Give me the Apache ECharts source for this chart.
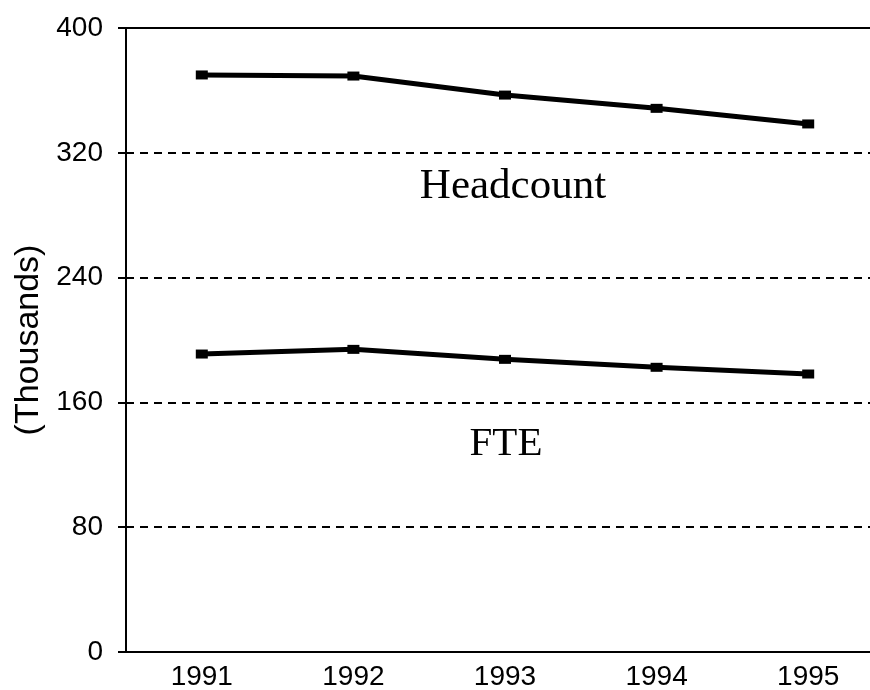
<!DOCTYPE html>
<html>
<head>
<meta charset="utf-8">
<script src="https://cdn.jsdelivr.net/npm/echarts@6/dist/echarts.min.js"></script>
<style>html,body{margin:0;padding:0;background:#fff}#c{width:870px;height:690px}</style>
</head>
<body>
<div id="c"></div>
<script>
const years = ['1991', '1992', '1993', '1994', '1995'];
const headcount = [369.9, 369.2, 357, 348.5, 338.5];
const fte = [191, 194, 187.6, 182.5, 178.2];
const yTicks = [0, 80, 160, 240, 320, 400];
const seriesLabels = ['Headcount', 'FTE'];
const labelAnchors = [['1993', 298.5], ['1993', 133]];

const chart = echarts.init(document.getElementById('c'), null, {renderer: 'canvas'});
const lineStyle = {color: '#000', width: 5};
function mp(idx, dx, fs) {
  return {
    symbol: 'circle', symbolSize: 1,
    itemStyle: {color: 'rgba(0,0,0,0)'},
    label: {show: true, position: 'inside', offset: [dx, 0], formatter: seriesLabels[idx],
      color: '#000', fontFamily: 'Liberation Serif', fontSize: fs},
    data: [{coord: labelAnchors[idx]}]
  };
}
chart.setOption({
  animation: false,
  backgroundColor: '#fff',
  grid: {left: 126, right: -14, top: 28, bottom: 38, outerBoundsMode: 'none', containLabel: false,
    show: true, borderColor: '#000', borderWidth: 2, backgroundColor: 'transparent'},
  xAxis: {
    type: 'category', data: years, boundaryGap: true,
    axisLine: {lineStyle: {color: '#000', width: 2}},
    axisTick: {alignWithLabel: true, length: 8, lineStyle: {color: '#000', width: 2}},
    axisLabel: {color: '#000', fontFamily: 'Liberation Sans', fontSize: 28, margin: 11}
  },
  yAxis: {
    type: 'value', min: 0, max: 400, interval: 80,
    name: '(Thousands)', nameLocation: 'middle', nameGap: 76,
    nameTextStyle: {color: '#000', fontFamily: 'Liberation Sans', fontSize: 34},
    axisLine: {show: true, lineStyle: {color: '#000', width: 2}},
    axisTick: {show: true, length: 8, lineStyle: {color: '#000', width: 2}},
    axisLabel: {color: '#000', fontFamily: 'Liberation Sans', fontSize: 28, margin: 23,
      formatter: v => yTicks.includes(v) ? String(v) : ''},
    splitLine: {show: true, lineStyle: {color: '#000', width: 2, type: [8, 6]}}
  },
  series: [
    {name: 'Headcount', type: 'line', data: headcount, symbol: 'rect', symbolSize: [12, 9],
     itemStyle: {color: '#000'}, lineStyle: lineStyle, markPoint: mp(0, 8, 43)},
    {name: 'FTE', type: 'line', data: fte, symbol: 'rect', symbolSize: [12, 9],
     itemStyle: {color: '#000'}, lineStyle: lineStyle, markPoint: mp(1, 1, 41)}
  ]
});
</script>
</body>
</html>
